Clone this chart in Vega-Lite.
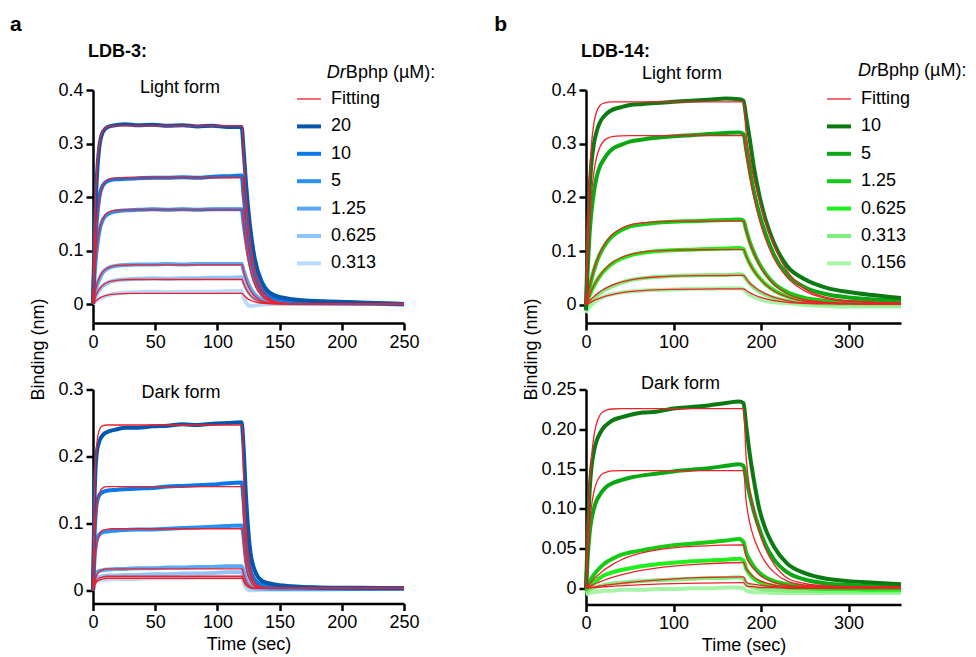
{
"$schema":"https://vega.github.io/schema/vega-lite/v6.json",
"padding":{"left":10,"top":13,"right":5,"bottom":5},
"config":{
"font":"Liberation Sans",
"view":{"stroke":null},
"axis":{"domainColor":"#000","domainWidth":2.5,"tickColor":"#000","tickWidth":2.5,"tickSize":7,"labelFontSize":18,"labelColor":"#000","titleFontSize":18,"titleFontWeight":"normal","titleColor":"#000","grid":false,"labelFlush":false,"labelPadding":3,"labelOverlap":false},
"legend":{"labelFontSize":18,"labelColor":"#000","symbolType":"stroke","symbolSize":576,"labelOffset":8,"rowPadding":4.4,"orient":"none"},
"text":{"fontSize":18,"fill":"#000","baseline":"alphabetic"},
"line":{"interpolate":"monotone","clip":true}
},
"datasets":{
"aLd":[
{"s":"0.313","t":0,"v":0},{"s":"0.313","t":1,"v":0.003},{"s":"0.313","t":2,"v":0.005},{"s":"0.313","t":3,"v":0.007},{"s":"0.313","t":5,"v":0.010},{"s":"0.313","t":8,"v":0.013},{"s":"0.313","t":12,"v":0.016},{"s":"0.313","t":18,"v":0.019},{"s":"0.313","t":26,"v":0.021},{"s":"0.313","t":36,"v":0.022},{"s":"0.313","t":48,"v":0.023},{"s":"0.313","t":60,"v":0.022},{"s":"0.313","t":72,"v":0.023},{"s":"0.313","t":84,"v":0.023},{"s":"0.313","t":96,"v":0.023},{"s":"0.313","t":108,"v":0.024},{"s":"0.313","t":119.5,"v":0.024},{"s":"0.313","t":121,"v":0.014},{"s":"0.313","t":123,"v":0.003},{"s":"0.313","t":126,"v":-0.004},{"s":"0.313","t":130,"v":-0.003},{"s":"0.313","t":136,"v":-0.001},{"s":"0.313","t":145,"v":0},{"s":"0.313","t":160,"v":0},{"s":"0.313","t":185,"v":0},{"s":"0.313","t":215,"v":0},{"s":"0.313","t":250,"v":0},
{"s":"0.625","t":0,"v":0},{"s":"0.625","t":1,"v":0.007},{"s":"0.625","t":2,"v":0.013},{"s":"0.625","t":3,"v":0.018},{"s":"0.625","t":5,"v":0.026},{"s":"0.625","t":8,"v":0.034},{"s":"0.625","t":12,"v":0.040},{"s":"0.625","t":18,"v":0.044},{"s":"0.625","t":26,"v":0.046},{"s":"0.625","t":36,"v":0.047},{"s":"0.625","t":48,"v":0.048},{"s":"0.625","t":60,"v":0.047},{"s":"0.625","t":72,"v":0.048},{"s":"0.625","t":84,"v":0.048},{"s":"0.625","t":96,"v":0.049},{"s":"0.625","t":108,"v":0.049},{"s":"0.625","t":119.5,"v":0.050},{"s":"0.625","t":121,"v":0.041},{"s":"0.625","t":123,"v":0.030},{"s":"0.625","t":126,"v":0.019},{"s":"0.625","t":130,"v":0.010},{"s":"0.625","t":136,"v":0.004},{"s":"0.625","t":145,"v":0.002},{"s":"0.625","t":160,"v":0.001},{"s":"0.625","t":185,"v":0},{"s":"0.625","t":215,"v":0},{"s":"0.625","t":250,"v":0},
{"s":"1.25","t":0,"v":0},{"s":"1.25","t":1,"v":0.014},{"s":"1.25","t":2,"v":0.025},{"s":"1.25","t":3,"v":0.034},{"s":"1.25","t":5,"v":0.046},{"s":"1.25","t":8,"v":0.059},{"s":"1.25","t":12,"v":0.067},{"s":"1.25","t":18,"v":0.071},{"s":"1.25","t":26,"v":0.073},{"s":"1.25","t":36,"v":0.074},{"s":"1.25","t":48,"v":0.074},{"s":"1.25","t":60,"v":0.075},{"s":"1.25","t":72,"v":0.074},{"s":"1.25","t":84,"v":0.075},{"s":"1.25","t":96,"v":0.075},{"s":"1.25","t":108,"v":0.075},{"s":"1.25","t":119.5,"v":0.075},{"s":"1.25","t":121,"v":0.063},{"s":"1.25","t":123,"v":0.049},{"s":"1.25","t":126,"v":0.032},{"s":"1.25","t":130,"v":0.018},{"s":"1.25","t":136,"v":0.008},{"s":"1.25","t":145,"v":0.004},{"s":"1.25","t":160,"v":0.002},{"s":"1.25","t":185,"v":0.001},{"s":"1.25","t":215,"v":0},{"s":"1.25","t":250,"v":0},
{"s":"5","t":0,"v":0},{"s":"5","t":1,"v":0.044},{"s":"5","t":2,"v":0.078},{"s":"5","t":3,"v":0.102},{"s":"5","t":5,"v":0.135},{"s":"5","t":8,"v":0.158},{"s":"5","t":12,"v":0.168},{"s":"5","t":18,"v":0.173},{"s":"5","t":26,"v":0.175},{"s":"5","t":36,"v":0.176},{"s":"5","t":48,"v":0.177},{"s":"5","t":60,"v":0.176},{"s":"5","t":72,"v":0.177},{"s":"5","t":84,"v":0.176},{"s":"5","t":96,"v":0.177},{"s":"5","t":108,"v":0.177},{"s":"5","t":119.5,"v":0.177},{"s":"5","t":121,"v":0.151},{"s":"5","t":123,"v":0.118},{"s":"5","t":126,"v":0.078},{"s":"5","t":130,"v":0.044},{"s":"5","t":136,"v":0.020},{"s":"5","t":145,"v":0.009},{"s":"5","t":160,"v":0.005},{"s":"5","t":185,"v":0.003},{"s":"5","t":215,"v":0.001},{"s":"5","t":250,"v":-0.001},
{"s":"10","t":0,"v":0},{"s":"10","t":1,"v":0.070},{"s":"10","t":2,"v":0.120},{"s":"10","t":3,"v":0.155},{"s":"10","t":5,"v":0.198},{"s":"10","t":8,"v":0.222},{"s":"10","t":12,"v":0.230},{"s":"10","t":18,"v":0.233},{"s":"10","t":26,"v":0.234},{"s":"10","t":36,"v":0.235},{"s":"10","t":48,"v":0.236},{"s":"10","t":60,"v":0.236},{"s":"10","t":72,"v":0.237},{"s":"10","t":84,"v":0.236},{"s":"10","t":96,"v":0.238},{"s":"10","t":108,"v":0.239},{"s":"10","t":119.5,"v":0.240},{"s":"10","t":121,"v":0.205},{"s":"10","t":123,"v":0.160},{"s":"10","t":126,"v":0.105},{"s":"10","t":130,"v":0.058},{"s":"10","t":136,"v":0.026},{"s":"10","t":145,"v":0.012},{"s":"10","t":160,"v":0.006},{"s":"10","t":185,"v":0.004},{"s":"10","t":215,"v":0.002},{"s":"10","t":250,"v":0},
{"s":"20","t":0,"v":0},{"s":"20","t":1,"v":0.100},{"s":"20","t":2,"v":0.180},{"s":"20","t":3,"v":0.232},{"s":"20","t":5,"v":0.292},{"s":"20","t":8,"v":0.322},{"s":"20","t":12,"v":0.331},{"s":"20","t":18,"v":0.334},{"s":"20","t":26,"v":0.336},{"s":"20","t":36,"v":0.334},{"s":"20","t":48,"v":0.335},{"s":"20","t":60,"v":0.333},{"s":"20","t":72,"v":0.334},{"s":"20","t":84,"v":0.332},{"s":"20","t":96,"v":0.333},{"s":"20","t":108,"v":0.331},{"s":"20","t":119.5,"v":0.331},{"s":"20","t":121,"v":0.290},{"s":"20","t":123,"v":0.225},{"s":"20","t":126,"v":0.150},{"s":"20","t":130,"v":0.085},{"s":"20","t":136,"v":0.040},{"s":"20","t":145,"v":0.017},{"s":"20","t":160,"v":0.009},{"s":"20","t":185,"v":0.005},{"s":"20","t":215,"v":0.003},{"s":"20","t":250,"v":0}
],
"aLf":[
{"s":"0.313","t":0,"v":0},{"s":"0.313","t":1,"v":0.0028},{"s":"0.313","t":2,"v":0.0052},{"s":"0.313","t":3,"v":0.0072},{"s":"0.313","t":4,"v":0.009},{"s":"0.313","t":6,"v":0.0119},{"s":"0.313","t":8,"v":0.014},{"s":"0.313","t":11,"v":0.0162},{"s":"0.313","t":15,"v":0.0179},{"s":"0.313","t":20,"v":0.019},{"s":"0.313","t":30,"v":0.0198},{"s":"0.313","t":120,"v":0.02},{"s":"0.313","t":121,"v":0.017},{"s":"0.313","t":122,"v":0.0145},{"s":"0.313","t":124,"v":0.0105},{"s":"0.313","t":126,"v":0.0077},{"s":"0.313","t":128,"v":0.0056},{"s":"0.313","t":131,"v":0.0034},{"s":"0.313","t":135,"v":0.0018},{"s":"0.313","t":140,"v":0.0008},{"s":"0.313","t":150,"v":0.0002},{"s":"0.313","t":165,"v":0},{"s":"0.313","t":250,"v":0},
{"s":"0.625","t":0,"v":0},{"s":"0.625","t":1,"v":0.0076},{"s":"0.625","t":2,"v":0.0139},{"s":"0.625","t":3,"v":0.0192},{"s":"0.625","t":4,"v":0.0236},{"s":"0.625","t":6,"v":0.0304},{"s":"0.625","t":8,"v":0.0351},{"s":"0.625","t":11,"v":0.0397},{"s":"0.625","t":15,"v":0.0429},{"s":"0.625","t":20,"v":0.0448},{"s":"0.625","t":30,"v":0.0458},{"s":"0.625","t":120,"v":0.046},{"s":"0.625","t":121,"v":0.0392},{"s":"0.625","t":122,"v":0.0334},{"s":"0.625","t":124,"v":0.0242},{"s":"0.625","t":126,"v":0.0176},{"s":"0.625","t":128,"v":0.0128},{"s":"0.625","t":131,"v":0.0079},{"s":"0.625","t":135,"v":0.0042},{"s":"0.625","t":140,"v":0.0019},{"s":"0.625","t":150,"v":0.0004},{"s":"0.625","t":165,"v":0},{"s":"0.625","t":250,"v":0},
{"s":"1.25","t":0,"v":0},{"s":"1.25","t":1,"v":0.0144},{"s":"1.25","t":2,"v":0.026},{"s":"1.25","t":3,"v":0.0353},{"s":"1.25","t":4,"v":0.0427},{"s":"1.25","t":6,"v":0.0535},{"s":"1.25","t":8,"v":0.0604},{"s":"1.25","t":11,"v":0.0665},{"s":"1.25","t":15,"v":0.0703},{"s":"1.25","t":20,"v":0.0721},{"s":"1.25","t":30,"v":0.073},{"s":"1.25","t":120,"v":0.073},{"s":"1.25","t":121,"v":0.0622},{"s":"1.25","t":122,"v":0.053},{"s":"1.25","t":124,"v":0.0385},{"s":"1.25","t":126,"v":0.028},{"s":"1.25","t":128,"v":0.0203},{"s":"1.25","t":131,"v":0.0126},{"s":"1.25","t":135,"v":0.0066},{"s":"1.25","t":140,"v":0.003},{"s":"1.25","t":150,"v":0.0006},{"s":"1.25","t":165,"v":0},{"s":"1.25","t":250,"v":0},
{"s":"5","t":0,"v":0},{"s":"5","t":1,"v":0.0456},{"s":"5","t":2,"v":0.0794},{"s":"5","t":3,"v":0.1044},{"s":"5","t":4,"v":0.123},{"s":"5","t":6,"v":0.147},{"s":"5","t":8,"v":0.16},{"s":"5","t":11,"v":0.1695},{"s":"5","t":15,"v":0.174},{"s":"5","t":20,"v":0.1756},{"s":"5","t":30,"v":0.176},{"s":"5","t":120,"v":0.176},{"s":"5","t":121,"v":0.15},{"s":"5","t":122,"v":0.1278},{"s":"5","t":124,"v":0.0928},{"s":"5","t":126,"v":0.0674},{"s":"5","t":128,"v":0.0489},{"s":"5","t":131,"v":0.0303},{"s":"5","t":135,"v":0.016},{"s":"5","t":140,"v":0.0072},{"s":"5","t":150,"v":0.0014},{"s":"5","t":165,"v":0},{"s":"5","t":250,"v":0},
{"s":"10","t":0,"v":0},{"s":"10","t":1,"v":0.0696},{"s":"10","t":2,"v":0.1188},{"s":"10","t":3,"v":0.1534},{"s":"10","t":4,"v":0.1778},{"s":"10","t":6,"v":0.2071},{"s":"10","t":8,"v":0.2216},{"s":"10","t":11,"v":0.231},{"s":"10","t":15,"v":0.2348},{"s":"10","t":20,"v":0.2358},{"s":"10","t":30,"v":0.236},{"s":"10","t":120,"v":0.236},{"s":"10","t":121,"v":0.201},{"s":"10","t":122,"v":0.1713},{"s":"10","t":124,"v":0.1244},{"s":"10","t":126,"v":0.0904},{"s":"10","t":128,"v":0.0656},{"s":"10","t":131,"v":0.0406},{"s":"10","t":135,"v":0.0214},{"s":"10","t":140,"v":0.0096},{"s":"10","t":150,"v":0.0019},{"s":"10","t":165,"v":0.0002},{"s":"10","t":250,"v":0},
{"s":"20","t":0,"v":0},{"s":"20","t":1,"v":0.1206},{"s":"20","t":2,"v":0.1976},{"s":"20","t":3,"v":0.2467},{"s":"20","t":4,"v":0.278},{"s":"20","t":6,"v":0.3107},{"s":"20","t":8,"v":0.324},{"s":"20","t":11,"v":0.3306},{"s":"20","t":15,"v":0.3329},{"s":"20","t":20,"v":0.333},{"s":"20","t":30,"v":0.333},{"s":"20","t":120,"v":0.333},{"s":"20","t":121,"v":0.2837},{"s":"20","t":122,"v":0.2418},{"s":"20","t":124,"v":0.1755},{"s":"20","t":126,"v":0.1275},{"s":"20","t":128,"v":0.0926},{"s":"20","t":131,"v":0.0573},{"s":"20","t":135,"v":0.0302},{"s":"20","t":140,"v":0.0136},{"s":"20","t":150,"v":0.0027},{"s":"20","t":165,"v":0.0002},{"s":"20","t":250,"v":0}
],
"aDd":[
{"s":"0.313","t":0,"v":0},{"s":"0.313","t":1,"v":0.008},{"s":"0.313","t":2,"v":0.012},{"s":"0.313","t":3,"v":0.014},{"s":"0.313","t":5,"v":0.015},{"s":"0.313","t":8,"v":0.016},{"s":"0.313","t":12,"v":0.016},{"s":"0.313","t":18,"v":0.017},{"s":"0.313","t":26,"v":0.017},{"s":"0.313","t":36,"v":0.017},{"s":"0.313","t":48,"v":0.018},{"s":"0.313","t":60,"v":0.018},{"s":"0.313","t":72,"v":0.018},{"s":"0.313","t":84,"v":0.019},{"s":"0.313","t":96,"v":0.019},{"s":"0.313","t":108,"v":0.019},{"s":"0.313","t":119.5,"v":0.019},{"s":"0.313","t":121,"v":0.012},{"s":"0.313","t":123,"v":0.004},{"s":"0.313","t":126,"v":0},{"s":"0.313","t":130,"v":0},{"s":"0.313","t":136,"v":0.001},{"s":"0.313","t":145,"v":0.001},{"s":"0.313","t":160,"v":0.001},{"s":"0.313","t":185,"v":0.001},{"s":"0.313","t":215,"v":0.002},{"s":"0.313","t":250,"v":0.002},
{"s":"0.625","t":0,"v":0},{"s":"0.625","t":1,"v":0.010},{"s":"0.625","t":2,"v":0.015},{"s":"0.625","t":3,"v":0.018},{"s":"0.625","t":5,"v":0.020},{"s":"0.625","t":8,"v":0.021},{"s":"0.625","t":12,"v":0.022},{"s":"0.625","t":18,"v":0.022},{"s":"0.625","t":26,"v":0.023},{"s":"0.625","t":36,"v":0.023},{"s":"0.625","t":48,"v":0.024},{"s":"0.625","t":60,"v":0.024},{"s":"0.625","t":72,"v":0.025},{"s":"0.625","t":84,"v":0.025},{"s":"0.625","t":96,"v":0.026},{"s":"0.625","t":108,"v":0.027},{"s":"0.625","t":119.5,"v":0.027},{"s":"0.625","t":121,"v":0.020},{"s":"0.625","t":123,"v":0.010},{"s":"0.625","t":126,"v":0.004},{"s":"0.625","t":130,"v":0.002},{"s":"0.625","t":136,"v":0.002},{"s":"0.625","t":145,"v":0.002},{"s":"0.625","t":160,"v":0.002},{"s":"0.625","t":185,"v":0.002},{"s":"0.625","t":215,"v":0.002},{"s":"0.625","t":250,"v":0.002},
{"s":"1.25","t":0,"v":0},{"s":"1.25","t":1,"v":0.015},{"s":"1.25","t":2,"v":0.022},{"s":"1.25","t":3,"v":0.026},{"s":"1.25","t":5,"v":0.029},{"s":"1.25","t":8,"v":0.030},{"s":"1.25","t":12,"v":0.031},{"s":"1.25","t":18,"v":0.032},{"s":"1.25","t":26,"v":0.032},{"s":"1.25","t":36,"v":0.033},{"s":"1.25","t":48,"v":0.033},{"s":"1.25","t":60,"v":0.034},{"s":"1.25","t":72,"v":0.034},{"s":"1.25","t":84,"v":0.035},{"s":"1.25","t":96,"v":0.035},{"s":"1.25","t":108,"v":0.036},{"s":"1.25","t":119.5,"v":0.036},{"s":"1.25","t":121,"v":0.029},{"s":"1.25","t":123,"v":0.016},{"s":"1.25","t":126,"v":0.007},{"s":"1.25","t":130,"v":0.004},{"s":"1.25","t":136,"v":0.003},{"s":"1.25","t":145,"v":0.002},{"s":"1.25","t":160,"v":0.002},{"s":"1.25","t":185,"v":0.002},{"s":"1.25","t":215,"v":0.003},{"s":"1.25","t":250,"v":0.003},
{"s":"5","t":0,"v":0},{"s":"5","t":1,"v":0.040},{"s":"5","t":2,"v":0.063},{"s":"5","t":3,"v":0.075},{"s":"5","t":5,"v":0.083},{"s":"5","t":8,"v":0.087},{"s":"5","t":12,"v":0.088},{"s":"5","t":18,"v":0.089},{"s":"5","t":26,"v":0.090},{"s":"5","t":36,"v":0.091},{"s":"5","t":48,"v":0.091},{"s":"5","t":60,"v":0.092},{"s":"5","t":72,"v":0.093},{"s":"5","t":84,"v":0.094},{"s":"5","t":96,"v":0.095},{"s":"5","t":108,"v":0.096},{"s":"5","t":119.5,"v":0.097},{"s":"5","t":121,"v":0.080},{"s":"5","t":123,"v":0.045},{"s":"5","t":126,"v":0.020},{"s":"5","t":130,"v":0.010},{"s":"5","t":136,"v":0.005},{"s":"5","t":145,"v":0.004},{"s":"5","t":160,"v":0.003},{"s":"5","t":185,"v":0.003},{"s":"5","t":215,"v":0.002},{"s":"5","t":250,"v":0.003},
{"s":"10","t":0,"v":0},{"s":"10","t":1,"v":0.070},{"s":"10","t":2,"v":0.110},{"s":"10","t":3,"v":0.130},{"s":"10","t":5,"v":0.142},{"s":"10","t":8,"v":0.147},{"s":"10","t":12,"v":0.149},{"s":"10","t":18,"v":0.150},{"s":"10","t":26,"v":0.151},{"s":"10","t":36,"v":0.152},{"s":"10","t":48,"v":0.153},{"s":"10","t":60,"v":0.155},{"s":"10","t":72,"v":0.156},{"s":"10","t":84,"v":0.157},{"s":"10","t":96,"v":0.158},{"s":"10","t":108,"v":0.160},{"s":"10","t":119.5,"v":0.161},{"s":"10","t":121,"v":0.135},{"s":"10","t":123,"v":0.075},{"s":"10","t":126,"v":0.035},{"s":"10","t":130,"v":0.016},{"s":"10","t":136,"v":0.008},{"s":"10","t":145,"v":0.006},{"s":"10","t":160,"v":0.005},{"s":"10","t":185,"v":0.004},{"s":"10","t":215,"v":0.003},{"s":"10","t":250,"v":0.003},
{"s":"20","t":0,"v":0},{"s":"20","t":1,"v":0.120},{"s":"20","t":2,"v":0.180},{"s":"20","t":3,"v":0.205},{"s":"20","t":5,"v":0.222},{"s":"20","t":8,"v":0.232},{"s":"20","t":12,"v":0.237},{"s":"20","t":18,"v":0.240},{"s":"20","t":26,"v":0.243},{"s":"20","t":36,"v":0.243},{"s":"20","t":48,"v":0.245},{"s":"20","t":60,"v":0.246},{"s":"20","t":72,"v":0.248},{"s":"20","t":84,"v":0.247},{"s":"20","t":96,"v":0.249},{"s":"20","t":108,"v":0.250},{"s":"20","t":119.5,"v":0.251},{"s":"20","t":121,"v":0.215},{"s":"20","t":123,"v":0.140},{"s":"20","t":126,"v":0.065},{"s":"20","t":130,"v":0.030},{"s":"20","t":136,"v":0.014},{"s":"20","t":145,"v":0.009},{"s":"20","t":160,"v":0.006},{"s":"20","t":185,"v":0.004},{"s":"20","t":215,"v":0.004},{"s":"20","t":250,"v":0.003}
],
"aDf":[
{"s":"0.313","t":0,"v":0},{"s":"0.313","t":1,"v":0.006},{"s":"0.313","t":2,"v":0.010},{"s":"0.313","t":3,"v":0.013},{"s":"0.313","t":4,"v":0.014},{"s":"0.313","t":6,"v":0.016},{"s":"0.313","t":8,"v":0.017},{"s":"0.313","t":11,"v":0.018},{"s":"0.313","t":15,"v":0.018},{"s":"0.313","t":120,"v":0.018},{"s":"0.313","t":121,"v":0.014},{"s":"0.313","t":122,"v":0.010},{"s":"0.313","t":124,"v":0.006},{"s":"0.313","t":126,"v":0.004},{"s":"0.313","t":128,"v":0.003},{"s":"0.313","t":131,"v":0.003},{"s":"0.313","t":135,"v":0.003},{"s":"0.313","t":140,"v":0.003},{"s":"0.313","t":150,"v":0.003},{"s":"0.313","t":250,"v":0.003},
{"s":"0.625","t":0,"v":0},{"s":"0.625","t":1,"v":0.007},{"s":"0.625","t":2,"v":0.012},{"s":"0.625","t":3,"v":0.015},{"s":"0.625","t":4,"v":0.017},{"s":"0.625","t":6,"v":0.019},{"s":"0.625","t":8,"v":0.020},{"s":"0.625","t":11,"v":0.021},{"s":"0.625","t":15,"v":0.021},{"s":"0.625","t":120,"v":0.021},{"s":"0.625","t":121,"v":0.016},{"s":"0.625","t":122,"v":0.012},{"s":"0.625","t":124,"v":0.007},{"s":"0.625","t":126,"v":0.005},{"s":"0.625","t":128,"v":0.003},{"s":"0.625","t":131,"v":0.003},{"s":"0.625","t":135,"v":0.003},{"s":"0.625","t":140,"v":0.003},{"s":"0.625","t":150,"v":0.003},{"s":"0.625","t":250,"v":0.003},
{"s":"1.25","t":0,"v":0},{"s":"1.25","t":1,"v":0.011},{"s":"1.25","t":2,"v":0.018},{"s":"1.25","t":3,"v":0.022},{"s":"1.25","t":4,"v":0.026},{"s":"1.25","t":6,"v":0.029},{"s":"1.25","t":8,"v":0.031},{"s":"1.25","t":11,"v":0.032},{"s":"1.25","t":15,"v":0.032},{"s":"1.25","t":120,"v":0.032},{"s":"1.25","t":121,"v":0.024},{"s":"1.25","t":122,"v":0.018},{"s":"1.25","t":124,"v":0.010},{"s":"1.25","t":126,"v":0.006},{"s":"1.25","t":128,"v":0.004},{"s":"1.25","t":131,"v":0.003},{"s":"1.25","t":135,"v":0.003},{"s":"1.25","t":140,"v":0.003},{"s":"1.25","t":150,"v":0.003},{"s":"1.25","t":250,"v":0.003},
{"s":"5","t":0,"v":0},{"s":"5","t":1,"v":0.033},{"s":"5","t":2,"v":0.055},{"s":"5","t":3,"v":0.068},{"s":"5","t":4,"v":0.077},{"s":"5","t":6,"v":0.086},{"s":"5","t":8,"v":0.090},{"s":"5","t":11,"v":0.091},{"s":"5","t":15,"v":0.092},{"s":"5","t":120,"v":0.092},{"s":"5","t":121,"v":0.067},{"s":"5","t":122,"v":0.049},{"s":"5","t":124,"v":0.026},{"s":"5","t":126,"v":0.015},{"s":"5","t":128,"v":0.009},{"s":"5","t":131,"v":0.005},{"s":"5","t":135,"v":0.003},{"s":"5","t":140,"v":0.003},{"s":"5","t":150,"v":0.003},{"s":"5","t":250,"v":0.003},
{"s":"10","t":0,"v":0},{"s":"10","t":1,"v":0.066},{"s":"10","t":2,"v":0.103},{"s":"10","t":3,"v":0.125},{"s":"10","t":4,"v":0.138},{"s":"10","t":6,"v":0.149},{"s":"10","t":8,"v":0.153},{"s":"10","t":11,"v":0.155},{"s":"10","t":15,"v":0.155},{"s":"10","t":120,"v":0.155},{"s":"10","t":121,"v":0.112},{"s":"10","t":122,"v":0.081},{"s":"10","t":124,"v":0.043},{"s":"10","t":126,"v":0.024},{"s":"10","t":128,"v":0.014},{"s":"10","t":131,"v":0.007},{"s":"10","t":135,"v":0.004},{"s":"10","t":140,"v":0.003},{"s":"10","t":150,"v":0.003},{"s":"10","t":250,"v":0.003},
{"s":"20","t":0,"v":0},{"s":"20","t":1,"v":0.124},{"s":"20","t":2,"v":0.186},{"s":"20","t":3,"v":0.217},{"s":"20","t":4,"v":0.232},{"s":"20","t":6,"v":0.243},{"s":"20","t":8,"v":0.246},{"s":"20","t":11,"v":0.247},{"s":"20","t":15,"v":0.247},{"s":"20","t":120,"v":0.247},{"s":"20","t":121,"v":0.178},{"s":"20","t":122,"v":0.129},{"s":"20","t":124,"v":0.068},{"s":"20","t":126,"v":0.037},{"s":"20","t":128,"v":0.020},{"s":"20","t":131,"v":0.009},{"s":"20","t":135,"v":0.005},{"s":"20","t":140,"v":0.004},{"s":"20","t":150,"v":0.003},{"s":"20","t":250,"v":0.003}
],
"bLd":[
{"s":"0.156","t":0,"v":-0.015},{"s":"0.156","t":2,"v":-0.008},{"s":"0.156","t":4,"v":-0.004},{"s":"0.156","t":6,"v":0},{"s":"0.156","t":9,"v":0.004},{"s":"0.156","t":12,"v":0.008},{"s":"0.156","t":16,"v":0.012},{"s":"0.156","t":20,"v":0.015},{"s":"0.156","t":25,"v":0.018},{"s":"0.156","t":30,"v":0.020},{"s":"0.156","t":40,"v":0.023},{"s":"0.156","t":50,"v":0.025},{"s":"0.156","t":65,"v":0.027},{"s":"0.156","t":80,"v":0.028},{"s":"0.156","t":100,"v":0.029},{"s":"0.156","t":120,"v":0.030},{"s":"0.156","t":140,"v":0.030},{"s":"0.156","t":160,"v":0.031},{"s":"0.156","t":175,"v":0.031},{"s":"0.156","t":180,"v":0.029},{"s":"0.156","t":183,"v":0.024},{"s":"0.156","t":187,"v":0.019},{"s":"0.156","t":192,"v":0.015},{"s":"0.156","t":198,"v":0.011},{"s":"0.156","t":205,"v":0.008},{"s":"0.156","t":215,"v":0.005},{"s":"0.156","t":230,"v":0.003},{"s":"0.156","t":250,"v":0},{"s":"0.156","t":275,"v":-0.002},{"s":"0.156","t":300,"v":-0.003},{"s":"0.156","t":330,"v":-0.003},{"s":"0.156","t":360,"v":-0.003},
{"s":"0.313","t":0,"v":-0.010},{"s":"0.313","t":2,"v":0},{"s":"0.313","t":4,"v":0.004},{"s":"0.313","t":6,"v":0.008},{"s":"0.313","t":9,"v":0.013},{"s":"0.313","t":12,"v":0.017},{"s":"0.313","t":16,"v":0.022},{"s":"0.313","t":20,"v":0.027},{"s":"0.313","t":25,"v":0.031},{"s":"0.313","t":30,"v":0.035},{"s":"0.313","t":40,"v":0.041},{"s":"0.313","t":50,"v":0.046},{"s":"0.313","t":65,"v":0.050},{"s":"0.313","t":80,"v":0.052},{"s":"0.313","t":100,"v":0.054},{"s":"0.313","t":120,"v":0.055},{"s":"0.313","t":140,"v":0.056},{"s":"0.313","t":160,"v":0.056},{"s":"0.313","t":175,"v":0.057},{"s":"0.313","t":180,"v":0.055},{"s":"0.313","t":183,"v":0.048},{"s":"0.313","t":187,"v":0.040},{"s":"0.313","t":192,"v":0.032},{"s":"0.313","t":198,"v":0.025},{"s":"0.313","t":205,"v":0.019},{"s":"0.313","t":215,"v":0.013},{"s":"0.313","t":230,"v":0.008},{"s":"0.313","t":250,"v":0.004},{"s":"0.313","t":275,"v":0.002},{"s":"0.313","t":300,"v":0.002},{"s":"0.313","t":330,"v":0.001},{"s":"0.313","t":360,"v":0.001},
{"s":"0.625","t":0,"v":0},{"s":"0.625","t":2,"v":0.009},{"s":"0.625","t":4,"v":0.017},{"s":"0.625","t":6,"v":0.025},{"s":"0.625","t":9,"v":0.035},{"s":"0.625","t":12,"v":0.044},{"s":"0.625","t":16,"v":0.054},{"s":"0.625","t":20,"v":0.062},{"s":"0.625","t":25,"v":0.070},{"s":"0.625","t":30,"v":0.077},{"s":"0.625","t":40,"v":0.086},{"s":"0.625","t":50,"v":0.092},{"s":"0.625","t":65,"v":0.097},{"s":"0.625","t":80,"v":0.100},{"s":"0.625","t":100,"v":0.102},{"s":"0.625","t":120,"v":0.103},{"s":"0.625","t":140,"v":0.104},{"s":"0.625","t":160,"v":0.105},{"s":"0.625","t":175,"v":0.106},{"s":"0.625","t":180,"v":0.104},{"s":"0.625","t":183,"v":0.092},{"s":"0.625","t":187,"v":0.078},{"s":"0.625","t":192,"v":0.064},{"s":"0.625","t":198,"v":0.051},{"s":"0.625","t":205,"v":0.039},{"s":"0.625","t":215,"v":0.027},{"s":"0.625","t":230,"v":0.016},{"s":"0.625","t":250,"v":0.009},{"s":"0.625","t":275,"v":0.006},{"s":"0.625","t":300,"v":0.005},{"s":"0.625","t":330,"v":0.004},{"s":"0.625","t":360,"v":0.004},
{"s":"1.25","t":0,"v":0},{"s":"1.25","t":2,"v":0.016},{"s":"1.25","t":4,"v":0.032},{"s":"1.25","t":6,"v":0.046},{"s":"1.25","t":9,"v":0.064},{"s":"1.25","t":12,"v":0.079},{"s":"1.25","t":16,"v":0.095},{"s":"1.25","t":20,"v":0.107},{"s":"1.25","t":25,"v":0.119},{"s":"1.25","t":30,"v":0.128},{"s":"1.25","t":40,"v":0.139},{"s":"1.25","t":50,"v":0.146},{"s":"1.25","t":65,"v":0.150},{"s":"1.25","t":80,"v":0.153},{"s":"1.25","t":100,"v":0.155},{"s":"1.25","t":120,"v":0.156},{"s":"1.25","t":140,"v":0.157},{"s":"1.25","t":160,"v":0.158},{"s":"1.25","t":175,"v":0.159},{"s":"1.25","t":180,"v":0.157},{"s":"1.25","t":183,"v":0.140},{"s":"1.25","t":187,"v":0.118},{"s":"1.25","t":192,"v":0.097},{"s":"1.25","t":198,"v":0.077},{"s":"1.25","t":205,"v":0.059},{"s":"1.25","t":215,"v":0.040},{"s":"1.25","t":230,"v":0.024},{"s":"1.25","t":250,"v":0.013},{"s":"1.25","t":275,"v":0.008},{"s":"1.25","t":300,"v":0.006},{"s":"1.25","t":330,"v":0.005},{"s":"1.25","t":360,"v":0.005},
{"s":"5","t":0,"v":-0.005},{"s":"5","t":2,"v":0.070},{"s":"5","t":4,"v":0.130},{"s":"5","t":6,"v":0.170},{"s":"5","t":9,"v":0.210},{"s":"5","t":12,"v":0.237},{"s":"5","t":16,"v":0.258},{"s":"5","t":20,"v":0.270},{"s":"5","t":25,"v":0.282},{"s":"5","t":30,"v":0.290},{"s":"5","t":40,"v":0.298},{"s":"5","t":50,"v":0.304},{"s":"5","t":65,"v":0.308},{"s":"5","t":80,"v":0.311},{"s":"5","t":100,"v":0.314},{"s":"5","t":120,"v":0.316},{"s":"5","t":140,"v":0.318},{"s":"5","t":160,"v":0.320},{"s":"5","t":175,"v":0.321},{"s":"5","t":180,"v":0.318},{"s":"5","t":183,"v":0.290},{"s":"5","t":187,"v":0.252},{"s":"5","t":192,"v":0.210},{"s":"5","t":198,"v":0.170},{"s":"5","t":205,"v":0.133},{"s":"5","t":215,"v":0.093},{"s":"5","t":230,"v":0.056},{"s":"5","t":250,"v":0.033},{"s":"5","t":275,"v":0.020},{"s":"5","t":300,"v":0.014},{"s":"5","t":330,"v":0.010},{"s":"5","t":360,"v":0.008},
{"s":"10","t":0,"v":-0.010},{"s":"10","t":2,"v":0.120},{"s":"10","t":4,"v":0.210},{"s":"10","t":6,"v":0.260},{"s":"10","t":9,"v":0.300},{"s":"10","t":12,"v":0.322},{"s":"10","t":16,"v":0.340},{"s":"10","t":20,"v":0.350},{"s":"10","t":25,"v":0.358},{"s":"10","t":30,"v":0.363},{"s":"10","t":40,"v":0.368},{"s":"10","t":50,"v":0.372},{"s":"10","t":65,"v":0.374},{"s":"10","t":80,"v":0.376},{"s":"10","t":100,"v":0.378},{"s":"10","t":120,"v":0.380},{"s":"10","t":140,"v":0.382},{"s":"10","t":160,"v":0.384},{"s":"10","t":175,"v":0.383},{"s":"10","t":180,"v":0.380},{"s":"10","t":183,"v":0.350},{"s":"10","t":187,"v":0.310},{"s":"10","t":192,"v":0.255},{"s":"10","t":198,"v":0.205},{"s":"10","t":205,"v":0.160},{"s":"10","t":215,"v":0.115},{"s":"10","t":230,"v":0.072},{"s":"10","t":250,"v":0.048},{"s":"10","t":275,"v":0.032},{"s":"10","t":300,"v":0.024},{"s":"10","t":330,"v":0.018},{"s":"10","t":360,"v":0.013}
],
"bLf":[
{"s":"0.156","t":0,"v":0},{"s":"0.156","t":2,"v":0.002},{"s":"0.156","t":4,"v":0.0039},{"s":"0.156","t":6,"v":0.0057},{"s":"0.156","t":9,"v":0.0081},{"s":"0.156","t":12,"v":0.0103},{"s":"0.156","t":16,"v":0.0129},{"s":"0.156","t":20,"v":0.0151},{"s":"0.156","t":25,"v":0.0175},{"s":"0.156","t":30,"v":0.0195},{"s":"0.156","t":40,"v":0.0226},{"s":"0.156","t":50,"v":0.0248},{"s":"0.156","t":65,"v":0.0269},{"s":"0.156","t":80,"v":0.0282},{"s":"0.156","t":100,"v":0.0291},{"s":"0.156","t":130,"v":0.0297},{"s":"0.156","t":180,"v":0.030},{"s":"0.156","t":183,"v":0.027},{"s":"0.156","t":187,"v":0.023},{"s":"0.156","t":192,"v":0.019},{"s":"0.156","t":198,"v":0.015},{"s":"0.156","t":205,"v":0.012},{"s":"0.156","t":215,"v":0.008},{"s":"0.156","t":230,"v":0.005},{"s":"0.156","t":250,"v":0.003},{"s":"0.156","t":275,"v":0.002},{"s":"0.156","t":300,"v":0.002},{"s":"0.156","t":330,"v":0.002},{"s":"0.156","t":360,"v":0.002},
{"s":"0.313","t":0,"v":0},{"s":"0.313","t":2,"v":0.0039},{"s":"0.313","t":4,"v":0.0076},{"s":"0.313","t":6,"v":0.0109},{"s":"0.313","t":9,"v":0.0156},{"s":"0.313","t":12,"v":0.0197},{"s":"0.313","t":16,"v":0.0246},{"s":"0.313","t":20,"v":0.0288},{"s":"0.313","t":25,"v":0.0332},{"s":"0.313","t":30,"v":0.0369},{"s":"0.313","t":40,"v":0.0425},{"s":"0.313","t":50,"v":0.0464},{"s":"0.313","t":65,"v":0.050},{"s":"0.313","t":80,"v":0.0521},{"s":"0.313","t":100,"v":0.0536},{"s":"0.313","t":130,"v":0.0546},{"s":"0.313","t":180,"v":0.055},{"s":"0.313","t":183,"v":0.049},{"s":"0.313","t":187,"v":0.041},{"s":"0.313","t":192,"v":0.034},{"s":"0.313","t":198,"v":0.027},{"s":"0.313","t":205,"v":0.021},{"s":"0.313","t":215,"v":0.014},{"s":"0.313","t":230,"v":0.008},{"s":"0.313","t":250,"v":0.004},{"s":"0.313","t":275,"v":0.003},{"s":"0.313","t":300,"v":0.002},{"s":"0.313","t":330,"v":0.002},{"s":"0.313","t":360,"v":0.002},
{"s":"0.625","t":0,"v":0},{"s":"0.625","t":2,"v":0.0094},{"s":"0.625","t":4,"v":0.018},{"s":"0.625","t":6,"v":0.0258},{"s":"0.625","t":9,"v":0.0362},{"s":"0.625","t":12,"v":0.0451},{"s":"0.625","t":16,"v":0.0552},{"s":"0.625","t":20,"v":0.0636},{"s":"0.625","t":25,"v":0.072},{"s":"0.625","t":30,"v":0.0786},{"s":"0.625","t":40,"v":0.0879},{"s":"0.625","t":50,"v":0.0936},{"s":"0.625","t":65,"v":0.0985},{"s":"0.625","t":80,"v":0.1008},{"s":"0.625","t":100,"v":0.1022},{"s":"0.625","t":130,"v":0.1028},{"s":"0.625","t":180,"v":0.103},{"s":"0.625","t":183,"v":0.091},{"s":"0.625","t":187,"v":0.077},{"s":"0.625","t":192,"v":0.063},{"s":"0.625","t":198,"v":0.050},{"s":"0.625","t":205,"v":0.038},{"s":"0.625","t":215,"v":0.026},{"s":"0.625","t":230,"v":0.015},{"s":"0.625","t":250,"v":0.007},{"s":"0.625","t":275,"v":0.004},{"s":"0.625","t":300,"v":0.003},{"s":"0.625","t":330,"v":0.002},{"s":"0.625","t":360,"v":0.002},
{"s":"1.25","t":0,"v":0},{"s":"1.25","t":2,"v":0.0179},{"s":"1.25","t":4,"v":0.0339},{"s":"1.25","t":6,"v":0.0479},{"s":"1.25","t":9,"v":0.066},{"s":"1.25","t":12,"v":0.081},{"s":"1.25","t":16,"v":0.0972},{"s":"1.25","t":20,"v":0.11},{"s":"1.25","t":25,"v":0.122},{"s":"1.25","t":30,"v":0.131},{"s":"1.25","t":40,"v":0.1424},{"s":"1.25","t":50,"v":0.1487},{"s":"1.25","t":65,"v":0.153},{"s":"1.25","t":80,"v":0.1548},{"s":"1.25","t":100,"v":0.1557},{"s":"1.25","t":130,"v":0.156},{"s":"1.25","t":180,"v":0.156},{"s":"1.25","t":183,"v":0.138},{"s":"1.25","t":187,"v":0.117},{"s":"1.25","t":192,"v":0.096},{"s":"1.25","t":198,"v":0.075},{"s":"1.25","t":205,"v":0.057},{"s":"1.25","t":215,"v":0.038},{"s":"1.25","t":230,"v":0.021},{"s":"1.25","t":250,"v":0.010},{"s":"1.25","t":275,"v":0.005},{"s":"1.25","t":300,"v":0.003},{"s":"1.25","t":330,"v":0.002},{"s":"1.25","t":360,"v":0.002},
{"s":"5","t":0,"v":0},{"s":"5","t":2,"v":0.0907},{"s":"5","t":4,"v":0.1553},{"s":"5","t":6,"v":0.2013},{"s":"5","t":9,"v":0.2466},{"s":"5","t":12,"v":0.2741},{"s":"5","t":16,"v":0.2942},{"s":"5","t":20,"v":0.3046},{"s":"5","t":25,"v":0.3106},{"s":"5","t":30,"v":0.3131},{"s":"5","t":40,"v":0.3147},{"s":"5","t":50,"v":0.315},{"s":"5","t":65,"v":0.315},{"s":"5","t":80,"v":0.315},{"s":"5","t":100,"v":0.315},{"s":"5","t":130,"v":0.315},{"s":"5","t":180,"v":0.315},{"s":"5","t":183,"v":0.280},{"s":"5","t":187,"v":0.240},{"s":"5","t":192,"v":0.200},{"s":"5","t":198,"v":0.160},{"s":"5","t":205,"v":0.124},{"s":"5","t":215,"v":0.086},{"s":"5","t":230,"v":0.051},{"s":"5","t":250,"v":0.026},{"s":"5","t":275,"v":0.012},{"s":"5","t":300,"v":0.007},{"s":"5","t":330,"v":0.005},{"s":"5","t":360,"v":0.004},
{"s":"10","t":0,"v":0},{"s":"10","t":2,"v":0.1487},{"s":"10","t":4,"v":0.2389},{"s":"10","t":6,"v":0.2937},{"s":"10","t":9,"v":0.3383},{"s":"10","t":12,"v":0.3591},{"s":"10","t":16,"v":0.3712},{"s":"10","t":20,"v":0.3754},{"s":"10","t":25,"v":0.3773},{"s":"10","t":30,"v":0.378},{"s":"10","t":40,"v":0.378},{"s":"10","t":50,"v":0.378},{"s":"10","t":65,"v":0.378},{"s":"10","t":80,"v":0.378},{"s":"10","t":100,"v":0.378},{"s":"10","t":130,"v":0.378},{"s":"10","t":180,"v":0.378},{"s":"10","t":183,"v":0.320},{"s":"10","t":187,"v":0.275},{"s":"10","t":192,"v":0.235},{"s":"10","t":198,"v":0.195},{"s":"10","t":205,"v":0.155},{"s":"10","t":215,"v":0.110},{"s":"10","t":230,"v":0.063},{"s":"10","t":250,"v":0.030},{"s":"10","t":275,"v":0.014},{"s":"10","t":300,"v":0.008},{"s":"10","t":330,"v":0.005},{"s":"10","t":360,"v":0.004}
],
"bDd":[
{"s":"0.156","t":0,"v":-0.008},{"s":"0.156","t":2,"v":-0.007},{"s":"0.156","t":4,"v":-0.006},{"s":"0.156","t":6,"v":-0.005},{"s":"0.156","t":9,"v":-0.005},{"s":"0.156","t":12,"v":-0.004},{"s":"0.156","t":16,"v":-0.004},{"s":"0.156","t":20,"v":-0.003},{"s":"0.156","t":25,"v":-0.003},{"s":"0.156","t":30,"v":-0.003},{"s":"0.156","t":40,"v":-0.002},{"s":"0.156","t":50,"v":-0.002},{"s":"0.156","t":65,"v":-0.002},{"s":"0.156","t":80,"v":-0.001},{"s":"0.156","t":100,"v":-0.001},{"s":"0.156","t":120,"v":0},{"s":"0.156","t":140,"v":0},{"s":"0.156","t":160,"v":0.001},{"s":"0.156","t":175,"v":0.001},{"s":"0.156","t":180,"v":0},{"s":"0.156","t":183,"v":-0.003},{"s":"0.156","t":187,"v":-0.004},{"s":"0.156","t":192,"v":-0.005},{"s":"0.156","t":198,"v":-0.005},{"s":"0.156","t":205,"v":-0.005},{"s":"0.156","t":215,"v":-0.006},{"s":"0.156","t":230,"v":-0.006},{"s":"0.156","t":250,"v":-0.006},{"s":"0.156","t":275,"v":-0.006},{"s":"0.156","t":300,"v":-0.006},{"s":"0.156","t":330,"v":-0.006},{"s":"0.156","t":360,"v":-0.006},
{"s":"0.313","t":0,"v":-0.006},{"s":"0.313","t":2,"v":-0.004},{"s":"0.313","t":4,"v":-0.002},{"s":"0.313","t":6,"v":-0.001},{"s":"0.313","t":9,"v":0.001},{"s":"0.313","t":12,"v":0.002},{"s":"0.313","t":16,"v":0.003},{"s":"0.313","t":20,"v":0.004},{"s":"0.313","t":25,"v":0.005},{"s":"0.313","t":30,"v":0.006},{"s":"0.313","t":40,"v":0.007},{"s":"0.313","t":50,"v":0.008},{"s":"0.313","t":65,"v":0.009},{"s":"0.313","t":80,"v":0.010},{"s":"0.313","t":100,"v":0.011},{"s":"0.313","t":120,"v":0.012},{"s":"0.313","t":140,"v":0.013},{"s":"0.313","t":160,"v":0.013},{"s":"0.313","t":175,"v":0.014},{"s":"0.313","t":180,"v":0.012},{"s":"0.313","t":183,"v":0.006},{"s":"0.313","t":187,"v":0.003},{"s":"0.313","t":192,"v":0.001},{"s":"0.313","t":198,"v":0},{"s":"0.313","t":205,"v":-0.002},{"s":"0.313","t":215,"v":-0.002},{"s":"0.313","t":230,"v":-0.003},{"s":"0.313","t":250,"v":-0.003},{"s":"0.313","t":275,"v":-0.004},{"s":"0.313","t":300,"v":-0.004},{"s":"0.313","t":330,"v":-0.004},{"s":"0.313","t":360,"v":-0.004},
{"s":"0.625","t":0,"v":-0.003},{"s":"0.625","t":2,"v":0},{"s":"0.625","t":4,"v":0.003},{"s":"0.625","t":6,"v":0.005},{"s":"0.625","t":9,"v":0.008},{"s":"0.625","t":12,"v":0.010},{"s":"0.625","t":16,"v":0.013},{"s":"0.625","t":20,"v":0.016},{"s":"0.625","t":25,"v":0.018},{"s":"0.625","t":30,"v":0.020},{"s":"0.625","t":40,"v":0.023},{"s":"0.625","t":50,"v":0.025},{"s":"0.625","t":65,"v":0.028},{"s":"0.625","t":80,"v":0.030},{"s":"0.625","t":100,"v":0.032},{"s":"0.625","t":120,"v":0.034},{"s":"0.625","t":140,"v":0.035},{"s":"0.625","t":160,"v":0.036},{"s":"0.625","t":175,"v":0.037},{"s":"0.625","t":180,"v":0.035},{"s":"0.625","t":183,"v":0.025},{"s":"0.625","t":187,"v":0.018},{"s":"0.625","t":192,"v":0.012},{"s":"0.625","t":198,"v":0.008},{"s":"0.625","t":205,"v":0.005},{"s":"0.625","t":215,"v":0.003},{"s":"0.625","t":230,"v":0.001},{"s":"0.625","t":250,"v":0},{"s":"0.625","t":275,"v":-0.001},{"s":"0.625","t":300,"v":-0.001},{"s":"0.625","t":330,"v":-0.002},{"s":"0.625","t":360,"v":-0.002},
{"s":"1.25","t":0,"v":0},{"s":"1.25","t":2,"v":0.004},{"s":"1.25","t":4,"v":0.008},{"s":"1.25","t":6,"v":0.012},{"s":"1.25","t":9,"v":0.017},{"s":"1.25","t":12,"v":0.021},{"s":"1.25","t":16,"v":0.026},{"s":"1.25","t":20,"v":0.030},{"s":"1.25","t":25,"v":0.034},{"s":"1.25","t":30,"v":0.037},{"s":"1.25","t":40,"v":0.042},{"s":"1.25","t":50,"v":0.045},{"s":"1.25","t":65,"v":0.048},{"s":"1.25","t":80,"v":0.051},{"s":"1.25","t":100,"v":0.054},{"s":"1.25","t":120,"v":0.056},{"s":"1.25","t":140,"v":0.058},{"s":"1.25","t":160,"v":0.060},{"s":"1.25","t":175,"v":0.062},{"s":"1.25","t":180,"v":0.058},{"s":"1.25","t":183,"v":0.045},{"s":"1.25","t":187,"v":0.036},{"s":"1.25","t":192,"v":0.027},{"s":"1.25","t":198,"v":0.020},{"s":"1.25","t":205,"v":0.014},{"s":"1.25","t":215,"v":0.009},{"s":"1.25","t":230,"v":0.005},{"s":"1.25","t":250,"v":0.002},{"s":"1.25","t":275,"v":0.001},{"s":"1.25","t":300,"v":0},{"s":"1.25","t":330,"v":0},{"s":"1.25","t":360,"v":0},
{"s":"5","t":0,"v":0},{"s":"5","t":2,"v":0.040},{"s":"5","t":4,"v":0.068},{"s":"5","t":6,"v":0.085},{"s":"5","t":9,"v":0.100},{"s":"5","t":12,"v":0.110},{"s":"5","t":16,"v":0.118},{"s":"5","t":20,"v":0.124},{"s":"5","t":25,"v":0.129},{"s":"5","t":30,"v":0.132},{"s":"5","t":40,"v":0.136},{"s":"5","t":50,"v":0.139},{"s":"5","t":65,"v":0.142},{"s":"5","t":80,"v":0.144},{"s":"5","t":100,"v":0.147},{"s":"5","t":120,"v":0.149},{"s":"5","t":140,"v":0.151},{"s":"5","t":160,"v":0.154},{"s":"5","t":175,"v":0.156},{"s":"5","t":180,"v":0.154},{"s":"5","t":183,"v":0.138},{"s":"5","t":187,"v":0.118},{"s":"5","t":192,"v":0.096},{"s":"5","t":198,"v":0.075},{"s":"5","t":205,"v":0.055},{"s":"5","t":215,"v":0.036},{"s":"5","t":230,"v":0.020},{"s":"5","t":250,"v":0.011},{"s":"5","t":275,"v":0.006},{"s":"5","t":300,"v":0.004},{"s":"5","t":330,"v":0.003},{"s":"5","t":360,"v":0.003},
{"s":"10","t":0,"v":0},{"s":"10","t":2,"v":0.070},{"s":"10","t":4,"v":0.120},{"s":"10","t":6,"v":0.150},{"s":"10","t":9,"v":0.172},{"s":"10","t":12,"v":0.185},{"s":"10","t":16,"v":0.195},{"s":"10","t":20,"v":0.202},{"s":"10","t":25,"v":0.207},{"s":"10","t":30,"v":0.211},{"s":"10","t":40,"v":0.215},{"s":"10","t":50,"v":0.218},{"s":"10","t":65,"v":0.221},{"s":"10","t":80,"v":0.222},{"s":"10","t":100,"v":0.226},{"s":"10","t":120,"v":0.228},{"s":"10","t":140,"v":0.230},{"s":"10","t":160,"v":0.233},{"s":"10","t":175,"v":0.235},{"s":"10","t":180,"v":0.233},{"s":"10","t":183,"v":0.205},{"s":"10","t":187,"v":0.170},{"s":"10","t":192,"v":0.135},{"s":"10","t":198,"v":0.100},{"s":"10","t":205,"v":0.075},{"s":"10","t":215,"v":0.052},{"s":"10","t":230,"v":0.031},{"s":"10","t":250,"v":0.019},{"s":"10","t":275,"v":0.012},{"s":"10","t":300,"v":0.009},{"s":"10","t":330,"v":0.007},{"s":"10","t":360,"v":0.005}
],
"bDf":[
{"s":"0.156","t":0,"v":0},{"s":"0.156","t":2,"v":0.0002},{"s":"0.156","t":4,"v":0.0004},{"s":"0.156","t":6,"v":0.0006},{"s":"0.156","t":9,"v":0.0009},{"s":"0.156","t":12,"v":0.0011},{"s":"0.156","t":16,"v":0.0015},{"s":"0.156","t":20,"v":0.0018},{"s":"0.156","t":25,"v":0.0021},{"s":"0.156","t":30,"v":0.0025},{"s":"0.156","t":40,"v":0.0031},{"s":"0.156","t":50,"v":0.0037},{"s":"0.156","t":65,"v":0.0045},{"s":"0.156","t":80,"v":0.0051},{"s":"0.156","t":100,"v":0.0059},{"s":"0.156","t":130,"v":0.0066},{"s":"0.156","t":180,"v":0.0071},{"s":"0.156","t":183,"v":0.003},{"s":"0.156","t":187,"v":0.002},{"s":"0.156","t":192,"v":0.002},{"s":"0.156","t":198,"v":0.001},{"s":"0.156","t":205,"v":0.001},{"s":"0.156","t":215,"v":0.001},{"s":"0.156","t":230,"v":0},{"s":"0.156","t":250,"v":0},{"s":"0.156","t":275,"v":0},{"s":"0.156","t":300,"v":0},{"s":"0.156","t":330,"v":0},{"s":"0.156","t":360,"v":0},
{"s":"0.313","t":0,"v":0},{"s":"0.313","t":2,"v":0.0004},{"s":"0.313","t":4,"v":0.0008},{"s":"0.313","t":6,"v":0.0012},{"s":"0.313","t":9,"v":0.0017},{"s":"0.313","t":12,"v":0.0022},{"s":"0.313","t":16,"v":0.0029},{"s":"0.313","t":20,"v":0.0035},{"s":"0.313","t":25,"v":0.0042},{"s":"0.313","t":30,"v":0.0049},{"s":"0.313","t":40,"v":0.0062},{"s":"0.313","t":50,"v":0.0073},{"s":"0.313","t":65,"v":0.0089},{"s":"0.313","t":80,"v":0.0102},{"s":"0.313","t":100,"v":0.0118},{"s":"0.313","t":130,"v":0.0133},{"s":"0.313","t":180,"v":0.0143},{"s":"0.313","t":183,"v":0.008},{"s":"0.313","t":187,"v":0.006},{"s":"0.313","t":192,"v":0.005},{"s":"0.313","t":198,"v":0.004},{"s":"0.313","t":205,"v":0.003},{"s":"0.313","t":215,"v":0.002},{"s":"0.313","t":230,"v":0.001},{"s":"0.313","t":250,"v":0.001},{"s":"0.313","t":275,"v":0.001},{"s":"0.313","t":300,"v":0.001},{"s":"0.313","t":330,"v":0.001},{"s":"0.313","t":360,"v":0.001},
{"s":"0.625","t":0,"v":0},{"s":"0.625","t":2,"v":0.0012},{"s":"0.625","t":4,"v":0.0022},{"s":"0.625","t":6,"v":0.0033},{"s":"0.625","t":9,"v":0.0048},{"s":"0.625","t":12,"v":0.0063},{"s":"0.625","t":16,"v":0.0081},{"s":"0.625","t":20,"v":0.0098},{"s":"0.625","t":25,"v":0.0118},{"s":"0.625","t":30,"v":0.0136},{"s":"0.625","t":40,"v":0.0168},{"s":"0.625","t":50,"v":0.0195},{"s":"0.625","t":65,"v":0.0227},{"s":"0.625","t":80,"v":0.0253},{"s":"0.625","t":100,"v":0.0278},{"s":"0.625","t":130,"v":0.0303},{"s":"0.625","t":180,"v":0.0324},{"s":"0.625","t":183,"v":0.025},{"s":"0.625","t":187,"v":0.019},{"s":"0.625","t":192,"v":0.014},{"s":"0.625","t":198,"v":0.010},{"s":"0.625","t":205,"v":0.007},{"s":"0.625","t":215,"v":0.004},{"s":"0.625","t":230,"v":0.002},{"s":"0.625","t":250,"v":0.001},{"s":"0.625","t":275,"v":0.001},{"s":"0.625","t":300,"v":0.001},{"s":"0.625","t":330,"v":0.001},{"s":"0.625","t":360,"v":0.001},
{"s":"1.25","t":0,"v":0},{"s":"1.25","t":2,"v":0.0028},{"s":"1.25","t":4,"v":0.0054},{"s":"1.25","t":6,"v":0.0079},{"s":"1.25","t":9,"v":0.0115},{"s":"1.25","t":12,"v":0.0147},{"s":"1.25","t":16,"v":0.0187},{"s":"1.25","t":20,"v":0.0223},{"s":"1.25","t":25,"v":0.0263},{"s":"1.25","t":30,"v":0.0298},{"s":"1.25","t":40,"v":0.0356},{"s":"1.25","t":50,"v":0.040},{"s":"1.25","t":65,"v":0.0449},{"s":"1.25","t":80,"v":0.0481},{"s":"1.25","t":100,"v":0.0509},{"s":"1.25","t":130,"v":0.0531},{"s":"1.25","t":180,"v":0.0545},{"s":"1.25","t":183,"v":0.040},{"s":"1.25","t":187,"v":0.031},{"s":"1.25","t":192,"v":0.024},{"s":"1.25","t":198,"v":0.017},{"s":"1.25","t":205,"v":0.012},{"s":"1.25","t":215,"v":0.007},{"s":"1.25","t":230,"v":0.004},{"s":"1.25","t":250,"v":0.002},{"s":"1.25","t":275,"v":0.002},{"s":"1.25","t":300,"v":0.002},{"s":"1.25","t":330,"v":0.002},{"s":"1.25","t":360,"v":0.002},
{"s":"5","t":0,"v":0},{"s":"5","t":2,"v":0.0468},{"s":"5","t":4,"v":0.0787},{"s":"5","t":6,"v":0.1006},{"s":"5","t":9,"v":0.1212},{"s":"5","t":12,"v":0.1329},{"s":"5","t":16,"v":0.1409},{"s":"5","t":20,"v":0.1447},{"s":"5","t":25,"v":0.1467},{"s":"5","t":30,"v":0.1476},{"s":"5","t":40,"v":0.148},{"s":"5","t":50,"v":0.148},{"s":"5","t":65,"v":0.148},{"s":"5","t":80,"v":0.148},{"s":"5","t":100,"v":0.148},{"s":"5","t":130,"v":0.148},{"s":"5","t":180,"v":0.148},{"s":"5","t":183,"v":0.110},{"s":"5","t":187,"v":0.083},{"s":"5","t":192,"v":0.063},{"s":"5","t":198,"v":0.047},{"s":"5","t":205,"v":0.033},{"s":"5","t":215,"v":0.020},{"s":"5","t":230,"v":0.009},{"s":"5","t":250,"v":0.004},{"s":"5","t":275,"v":0.002},{"s":"5","t":300,"v":0.002},{"s":"5","t":330,"v":0.002},{"s":"5","t":360,"v":0.002},
{"s":"10","t":0,"v":0},{"s":"10","t":2,"v":0.0766},{"s":"10","t":4,"v":0.1272},{"s":"10","t":6,"v":0.1607},{"s":"10","t":9,"v":0.191},{"s":"10","t":12,"v":0.2072},{"s":"10","t":16,"v":0.2179},{"s":"10","t":20,"v":0.2224},{"s":"10","t":25,"v":0.2246},{"s":"10","t":30,"v":0.2255},{"s":"10","t":40,"v":0.226},{"s":"10","t":50,"v":0.226},{"s":"10","t":65,"v":0.226},{"s":"10","t":80,"v":0.226},{"s":"10","t":100,"v":0.226},{"s":"10","t":130,"v":0.226},{"s":"10","t":180,"v":0.226},{"s":"10","t":183,"v":0.165},{"s":"10","t":187,"v":0.125},{"s":"10","t":192,"v":0.096},{"s":"10","t":198,"v":0.071},{"s":"10","t":205,"v":0.050},{"s":"10","t":215,"v":0.030},{"s":"10","t":230,"v":0.013},{"s":"10","t":250,"v":0.006},{"s":"10","t":275,"v":0.003},{"s":"10","t":300,"v":0.002},{"s":"10","t":330,"v":0.002},{"s":"10","t":360,"v":0.002}
]
},
"concat":[
{
"width":311,"height":233,
"layer":[
{"data":{"name":"aLd"},"mark":{"type":"line"},
"encoding":{
"x":{"field":"t","type":"quantitative","scale":{"domain":[0,250],"nice":false,"zero":false},"axis":{"values":[0,50,100,150,200,250],"title":null}},
"y":{"field":"v","type":"quantitative","scale":{"domain":[-0.0355,0.4],"nice":false,"zero":false},"axis":{"values":[0,0.1,0.2,0.3,0.4],"format":"~g","title":"Binding (nm)","titleY":259,"titlePadding":10}},
"color":{"field":"s","type":"nominal","scale":{"domain":["Fitting","20","10","5","1.25","0.625","0.313"],"range":["#f0202a","#0556ad","#0a78e6","#2a8ff0","#5aa8f5","#8fc4f8","#b9dafb"]},"legend":{"title":null,"legendX":202,"legendY":-4}},
"strokeWidth":{"field":"s","type":"nominal","scale":{"type":"ordinal","domain":["Fitting","20","10","5","1.25","0.625","0.313"],"range":[1.3,4,4,4,4,4,4]},"legend":{"title":null,"legendX":202,"legendY":-4}}
}},
{"data":{"name":"aLf"},"mark":{"type":"line","color":"#f0202a","strokeWidth":1.3},
"encoding":{"x":{"field":"t","type":"quantitative"},"y":{"field":"v","type":"quantitative"},"detail":{"field":"s","type":"nominal"}}},
{"data":{"values":[{}]},"mark":{"type":"text","align":"center"},"encoding":{"x":{"datum":70},"y":{"datum":0.3944},"text":{"value":"Light form"}}},
{"data":{"values":[{}]},"mark":{"type":"text","align":"left","fontStyle":"italic"},"encoding":{"x":{"datum":188},"y":{"datum":0.4224},"text":{"value":"Dr"}}},
{"data":{"values":[{}]},"mark":{"type":"text","align":"left","dx":19},"encoding":{"x":{"datum":188},"y":{"datum":0.4224},"text":{"value":"Bphp (µM):"}}},
{"data":{"values":[{}]},"mark":{"type":"text","align":"left","fontWeight":"bold","fontSize":21},"encoding":{"x":{"datum":-66.7},"y":{"datum":0.5103},"text":{"value":"a"}}},
{"data":{"values":[{}]},"mark":{"type":"text","align":"left","fontWeight":"bold"},"encoding":{"x":{"datum":-4},"y":{"datum":0.4617},"text":{"value":"LDB-3:"}}}
]
},
{
"width":315,"height":233,
"layer":[
{"data":{"name":"bLd"},"mark":{"type":"line"},
"encoding":{
"x":{"field":"t","type":"quantitative","scale":{"domain":[0,360],"nice":false,"zero":false},"axis":{"values":[0,100,200,300],"title":null}},
"y":{"field":"v","type":"quantitative","scale":{"domain":[-0.0335,0.4],"nice":false,"zero":false},"axis":{"values":[0,0.1,0.2,0.3,0.4],"format":"~g","title":"Binding (nm)","titleY":259,"titlePadding":10}},
"color":{"field":"s","type":"nominal","scale":{"domain":["Fitting","10","5","1.25","0.625","0.313","0.156"],"range":["#f0202a","#0b7a12","#0aa814","#14cc14","#1ef01e","#80ef80","#a6f5a6"]},"legend":{"title":null,"legendX":239,"legendY":-4}},
"strokeWidth":{"field":"s","type":"nominal","scale":{"type":"ordinal","domain":["Fitting","10","5","1.25","0.625","0.313","0.156"],"range":[1.3,4,4,4,4,4,4]},"legend":{"title":null,"legendX":239,"legendY":-4}}
}},
{"data":{"name":"bLf"},"mark":{"type":"line","color":"#f0202a","strokeWidth":1.3},
"encoding":{"x":{"field":"t","type":"quantitative"},"y":{"field":"v","type":"quantitative"},"detail":{"field":"s","type":"nominal"}}},
{"data":{"values":[{}]},"mark":{"type":"text","align":"center"},"encoding":{"x":{"datum":109.7},"y":{"datum":0.4204},"text":{"value":"Light form"}}},
{"data":{"values":[{}]},"mark":{"type":"text","align":"left","fontStyle":"italic"},"encoding":{"x":{"datum":310.9},"y":{"datum":0.4257},"text":{"value":"Dr"}}},
{"data":{"values":[{}]},"mark":{"type":"text","align":"left","dx":19},"encoding":{"x":{"datum":310.9},"y":{"datum":0.4257},"text":{"value":"Bphp (µM):"}}},
{"data":{"values":[{}]},"mark":{"type":"text","align":"left","fontWeight":"bold","fontSize":21},"encoding":{"x":{"datum":-105},"y":{"datum":0.51},"text":{"value":"b"}}},
{"data":{"values":[{}]},"mark":{"type":"text","align":"left","fontWeight":"bold"},"encoding":{"x":{"datum":-5.7},"y":{"datum":0.4615},"text":{"value":"LDB-14:"}}}
]
},
{
"width":311,"height":214,
"layer":[
{"data":{"name":"aDd"},"mark":{"type":"line"},
"encoding":{
"x":{"field":"t","type":"quantitative","scale":{"domain":[0,250],"nice":false,"zero":false},"axis":{"values":[0,50,100,150,200,250],"title":"Time (sec)","titlePadding":4}},
"y":{"field":"v","type":"quantitative","scale":{"domain":[-0.0197,0.3],"nice":false,"zero":false},"axis":{"values":[0,0.1,0.2,0.3],"format":"~g","title":null}},
"color":{"field":"s","type":"nominal","scale":{"domain":["Fitting","20","10","5","1.25","0.625","0.313"],"range":["#f0202a","#0556ad","#0a78e6","#2a8ff0","#5aa8f5","#8fc4f8","#b9dafb"]},"legend":null},
"strokeWidth":{"field":"s","type":"nominal","scale":{"type":"ordinal","domain":["Fitting","20","10","5","1.25","0.625","0.313"],"range":[1.3,4,4,4,4,4,4]},"legend":null}
}},
{"data":{"name":"aDf"},"mark":{"type":"line","color":"#f0202a","strokeWidth":1.3},
"encoding":{"x":{"field":"t","type":"quantitative"},"y":{"field":"v","type":"quantitative"},"detail":{"field":"s","type":"nominal"}}},
{"data":{"values":[{}]},"mark":{"type":"text","align":"center"},"encoding":{"x":{"datum":70.7},"y":{"datum":0.2873},"text":{"value":"Dark form"}}}
]
},
{
"width":315,"height":215,
"layer":[
{"data":{"name":"bDd"},"mark":{"type":"line"},
"encoding":{
"x":{"field":"t","type":"quantitative","scale":{"domain":[0,360],"nice":false,"zero":false},"axis":{"values":[0,100,200,300],"title":"Time (sec)","titlePadding":4}},
"y":{"field":"v","type":"quantitative","scale":{"domain":[-0.0204,0.25],"nice":false,"zero":false},"axis":{"values":[0,0.05,0.1,0.15,0.2,0.25],"labelExpr":"datum.value == 0 ? '0' : format(datum.value, '.2f')","title":null}},
"color":{"field":"s","type":"nominal","scale":{"domain":["Fitting","10","5","1.25","0.625","0.313","0.156"],"range":["#f0202a","#0b7a12","#0aa814","#14cc14","#1ef01e","#80ef80","#a6f5a6"]},"legend":null},
"strokeWidth":{"field":"s","type":"nominal","scale":{"type":"ordinal","domain":["Fitting","10","5","1.25","0.625","0.313","0.156"],"range":[1.3,4,4,4,4,4,4]},"legend":null}
}},
{"data":{"name":"bDf"},"mark":{"type":"line","color":"#f0202a","strokeWidth":1.3},
"encoding":{"x":{"field":"t","type":"quantitative"},"y":{"field":"v","type":"quantitative"},"detail":{"field":"s","type":"nominal"}}},
{"data":{"values":[{}]},"mark":{"type":"text","align":"center"},"encoding":{"x":{"datum":108},"y":{"datum":0.2507},"text":{"value":"Dark form"}}}
]
}
],
"columns":2,
"bounds":"flush",
"align":"each",
"spacing":{"row":66.5,"column":182},
"resolve":{"scale":{"color":"independent","strokeWidth":"independent","x":"independent","y":"independent"},"legend":{"color":"independent","strokeWidth":"independent"}}
}
